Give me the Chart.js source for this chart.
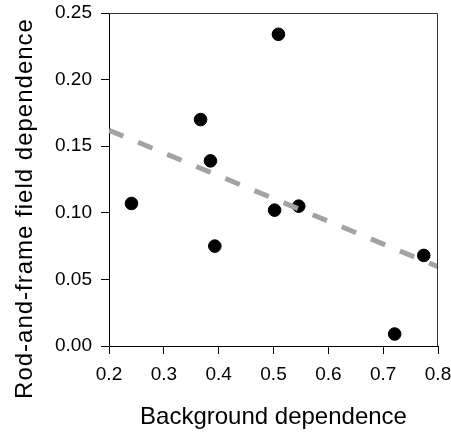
<!DOCTYPE html>
<html>
<head>
<meta charset="utf-8">
<script src="https://cdn.jsdelivr.net/npm/chart.js@4"></script>
<style>
  html, body { margin: 0; padding: 0; background: #fff; }
  #wrap { width: 451px; height: 435px; }
</style>
</head>
<body>
<div id="wrap"><canvas id="grafico"></canvas></div>
<script>
// dependência de fundo x dependência no teste rod-and-frame
const backgroundDep = [0.241, 0.367, 0.385, 0.393, 0.502, 0.509, 0.546, 0.721, 0.774];
const rodFrameDep   = [0.107, 0.170, 0.139, 0.075, 0.102, 0.234, 0.105, 0.009, 0.068];

// reta de regressão (extremos do eixo x)
const trendX = [0.2, 0.8];
const trendY = [0.162, 0.0595];

const xTicks = [0.2, 0.3, 0.4, 0.5, 0.6, 0.7, 0.8];
const yTicks = [0.00, 0.05, 0.10, 0.15, 0.20, 0.25];

const FONTE = "'Liberation Sans', Arial, sans-serif";
const TITULO_Y = "Rod-and-frame field dependence";

// moldura de cima e da direita + título do eixo y (um pouco abaixo do centro)
const moldura = {
  id: "moldura",
  afterDatasetsDraw(chart) {
    const { ctx, chartArea: a } = chart;
    ctx.save();
    ctx.strokeStyle = "#333";
    ctx.lineWidth = 1;
    ctx.beginPath();
    ctx.moveTo(a.left, a.top + 0.5);
    ctx.lineTo(a.right - 0.5, a.top + 0.5);
    ctx.lineTo(a.right - 0.5, a.bottom);
    ctx.stroke();

    ctx.translate(25, 208.5);
    ctx.rotate(-Math.PI / 2);
    ctx.font = `24px ${FONTE}`;
    ctx.letterSpacing = "1px";
    ctx.fillStyle = "#000";
    ctx.textAlign = "center";
    ctx.textBaseline = "middle";
    ctx.fillText(TITULO_Y, 0, 0);
    ctx.restore();
  },
};

// sem folga automática pros rótulos das pontas: a área do gráfico fica fixa
function semFolga(s) {
  s.paddingLeft = s.paddingRight = s.paddingTop = s.paddingBottom = 0;
}

new Chart(document.getElementById("grafico"), {
  type: "scatter",
  data: {
    datasets: [
      {
        type: "line",
        data: trendX.map((x, i) => ({ x, y: trendY[i] })),
        borderColor: "#a3a3a3",
        borderWidth: 5,
        borderDash: [15.5, 16],
        pointRadius: 0,
        fill: false,
      },
      {
        data: backgroundDep.map((x, i) => ({ x, y: rodFrameDep[i] })),
        backgroundColor: "#000",
        borderColor: "#000",
        pointRadius: 6.3,
        pointHoverRadius: 6.3,
      },
    ],
  },
  options: {
    responsive: true, maintainAspectRatio: false, animation: false,
    layout: { padding: { left: 0, top: 13, right: 13, bottom: 0 } },
    plugins: { legend: { display: false }, tooltip: { enabled: false } },
    scales: {
      x: {
        type: "linear", min: 0.2, max: 0.8,
        afterFit: s => { s.height = 89; semFolga(s); },
        afterBuildTicks: s => { s.ticks = xTicks.map(v => ({ value: v })); },
        grid: { drawOnChartArea: false, tickLength: 8, tickColor: "#000" },
        border: { color: "#000", width: 1 },
        ticks: {
          color: "#000", padding: 9, maxRotation: 0, autoSkip: false,
          font: { family: FONTE, size: 19 },
          callback: v => Number(v).toFixed(1),
        },
        title: {
          display: true, text: "Background dependence", color: "#000",
          font: { family: FONTE, size: 24 }, padding: { top: 0, bottom: 3 },
        },
      },
      y: {
        type: "linear", min: 0, max: 0.25,
        afterFit: s => { s.width = 109; semFolga(s); },
        afterBuildTicks: s => { s.ticks = yTicks.map(v => ({ value: v })); },
        grid: { drawOnChartArea: false, tickLength: 8, tickColor: "#000" },
        border: { color: "#000", width: 1 },
        ticks: {
          color: "#000", padding: 9, autoSkip: false,
          font: { family: FONTE, size: 19 },
          callback: v => Number(v).toFixed(2),
        },
      },
    },
  },
  plugins: [moldura],
});
</script>
</body>
</html>
